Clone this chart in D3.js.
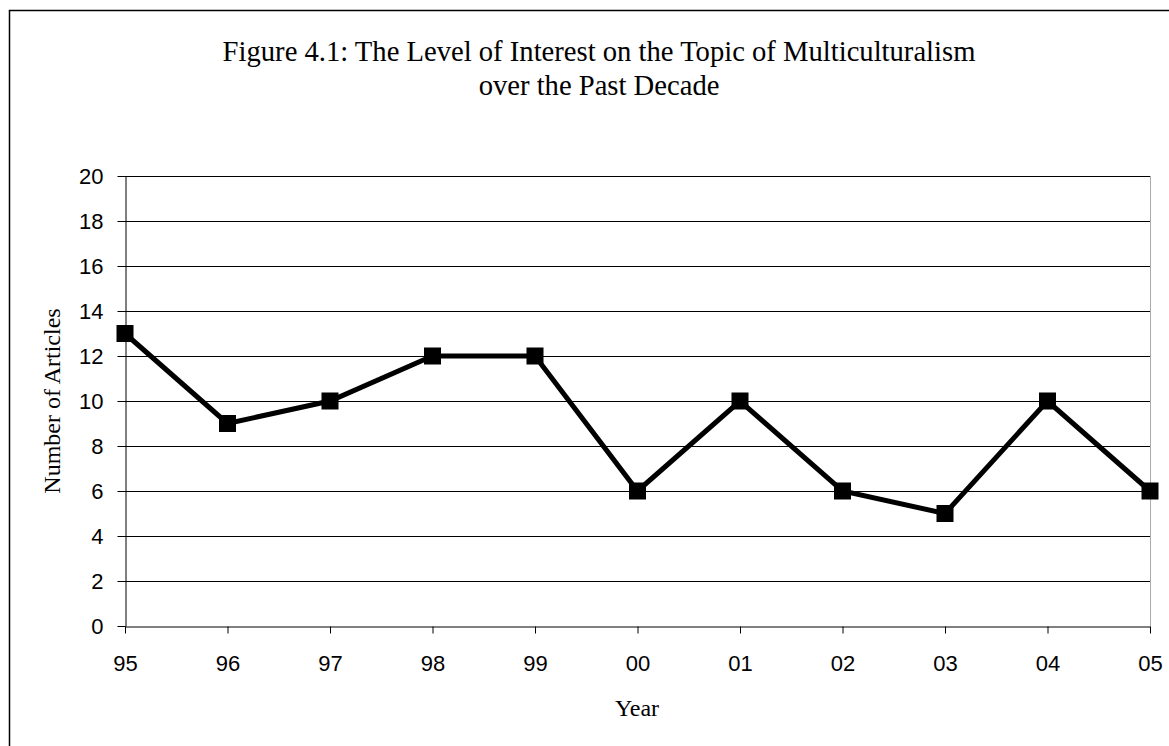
<!DOCTYPE html>
<html>
<head>
<meta charset="utf-8">
<script src="https://cdn.jsdelivr.net/npm/d3@7"></script>
<style>
  body { margin: 0; background: #fff; }
  svg { display: block; }
</style>
</head>
<body>
<script>
const years = ['95', '96', '97', '98', '99', '00', '01', '02', '03', '04', '05'];
const articles = [13, 9, 10, 12, 12, 6, 10, 6, 5, 10, 6];
const yTicks = [0, 2, 4, 6, 8, 10, 12, 14, 16, 18, 20];
const titleLines = ['Figure 4.1: The Level of Interest on the Topic of Multiculturalism', 'over the Past Decade'];

const width = 1169, height = 746;
const margin = { top: 176, right: 19, bottom: 120, left: 125 };
const serif = 'Liberation Serif, Times New Roman, serif';
const sans = 'Liberation Sans, Arial, sans-serif';

const svg = d3.select('body').append('svg')
    .attr('width', width)
    .attr('height', height);

// outer frame (only left/top visible)
svg.append('rect')
    .attr('x', 9.5).attr('y', 10.5)
    .attr('width', width + 10).attr('height', height + 10)
    .attr('fill', 'none').attr('stroke', '#000').attr('stroke-width', 1.5);

const x = d3.scalePoint()
    .domain(years)
    .range([margin.left, width - margin.right]);

const y = d3.scaleLinear()
    .domain([0, 20])
    .range([height - margin.bottom, margin.top]);

// gridlines
svg.append('g')
    .selectAll('line')
    .data(yTicks.filter(d => d > 0))
    .enter().append('line')
        .attr('x1', margin.left).attr('x2', width - margin.right)
        .attr('y1', d => Math.round(y(d)) + 0.5).attr('y2', d => Math.round(y(d)) + 0.5)
        .attr('stroke', '#000').attr('stroke-width', 1);

// right plot border
svg.append('line')
    .attr('x1', width - margin.right + 0.5).attr('x2', width - margin.right + 0.5)
    .attr('y1', margin.top).attr('y2', height - margin.bottom)
    .attr('stroke', '#aaa');

const yAxis = svg.append('g')
    .attr('transform', `translate(${margin.left + 0.5},0)`)
    .call(d3.axisLeft(y).tickValues(yTicks).tickSize(8).tickPadding(14).tickSizeOuter(0));

const xAxis = svg.append('g')
    .attr('transform', `translate(0,${height - margin.bottom + 0.5})`)
    .call(d3.axisBottom(x).tickSize(7).tickPadding(22).tickSizeOuter(0));

[yAxis, xAxis].forEach(ax => {
    ax.selectAll('path, line').attr('stroke', '#000');
    ax.selectAll('text')
        .attr('fill', '#000')
        .style('font-family', sans)
        .style('font-size', '22px');
});

// line
const line = d3.line()
    .x((d, i) => x(years[i]))
    .y(d => y(d));

svg.append('path')
    .datum(articles)
    .attr('fill', 'none')
    .attr('stroke', '#000')
    .attr('stroke-width', 5)
    .attr('stroke-linejoin', 'miter')
    .attr('d', line);

// markers
const m = 17;
svg.append('g')
    .selectAll('rect')
    .data(articles)
    .enter().append('rect')
        .attr('x', (d, i) => x(years[i]) - m / 2)
        .attr('y', d => y(d) - m / 2)
        .attr('width', m).attr('height', m)
        .attr('fill', '#000');

// title, squeezed horizontally like the original
const titleCx = 599;
const title = svg.append('g');
const titleText = title.selectAll('text')
    .data(titleLines)
    .enter().append('text')
        .attr('x', 0)
        .attr('y', (d, i) => 61 + i * 34)
        .attr('text-anchor', 'middle')
        .style('font-family', serif)
        .style('font-size', '30px')
        .text(d => d);
const natural = titleText.node().getComputedTextLength();
const sx = 753 / natural;
title.attr('transform', `translate(${titleCx},0) scale(${sx},1)`);

// axis titles
svg.append('text')
    .attr('transform', `translate(60,${(margin.top + height - margin.bottom) / 2}) rotate(-90)`)
    .attr('text-anchor', 'middle')
    .style('font-family', serif)
    .style('font-size', '24px')
    .text('Number of Articles');

svg.append('text')
    .attr('x', 637)
    .attr('y', 716)
    .attr('text-anchor', 'middle')
    .style('font-family', serif)
    .style('font-size', '24px')
    .text('Year');
</script>
</body>
</html>
